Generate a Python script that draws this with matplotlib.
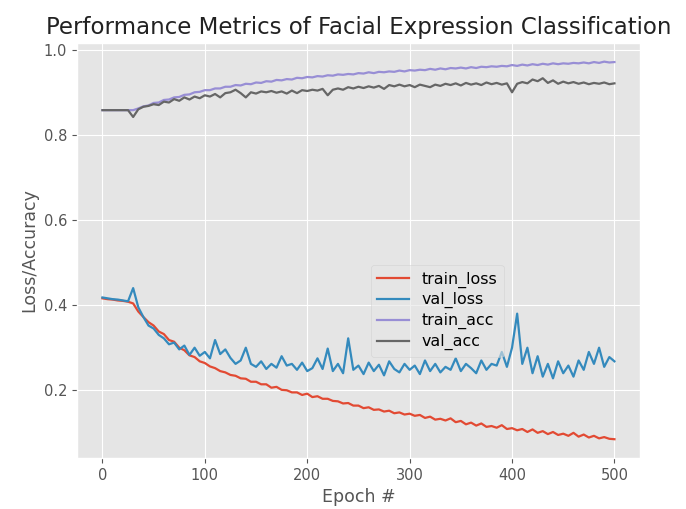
import numpy as np
import matplotlib
matplotlib.use("Agg")
import matplotlib.pyplot as plt

epochs = np.arange(0, 501, 5)

train_loss = [
    0.416, 0.414, 0.413, 0.411, 0.410, 0.408, 0.404, 0.385, 0.372, 0.360,
    0.352, 0.338, 0.332, 0.318, 0.314, 0.300, 0.294, 0.282, 0.278, 0.268,
    0.264, 0.256, 0.252, 0.245, 0.242, 0.236, 0.234, 0.228, 0.227, 0.220,
    0.220, 0.214, 0.214, 0.206, 0.208, 0.201, 0.200, 0.195, 0.195, 0.189,
    0.192, 0.184, 0.186, 0.180, 0.180, 0.175, 0.174, 0.169, 0.170, 0.164,
    0.164, 0.158, 0.160, 0.154, 0.155, 0.150, 0.152, 0.146, 0.148, 0.143,
    0.145, 0.140, 0.142, 0.135, 0.138, 0.131, 0.133, 0.129, 0.134, 0.125,
    0.128, 0.120, 0.124, 0.117, 0.122, 0.114, 0.116, 0.112, 0.118, 0.109,
    0.111, 0.106, 0.109, 0.102, 0.108, 0.100, 0.104, 0.097, 0.102, 0.095,
    0.098, 0.093, 0.100, 0.091, 0.096, 0.089, 0.093, 0.087, 0.090, 0.086,
    0.085,
]

val_loss = [
    0.418, 0.416, 0.414, 0.413, 0.411, 0.409, 0.440, 0.395, 0.372, 0.352,
    0.345, 0.330, 0.322, 0.308, 0.312, 0.296, 0.305, 0.283, 0.300, 0.281,
    0.290, 0.275, 0.318, 0.285, 0.296, 0.276, 0.262, 0.270, 0.300, 0.262,
    0.255, 0.268, 0.250, 0.262, 0.253, 0.280, 0.258, 0.262, 0.248, 0.265,
    0.245, 0.252, 0.275, 0.250, 0.298, 0.245, 0.262, 0.240, 0.322, 0.248,
    0.258, 0.238, 0.265, 0.245, 0.260, 0.235, 0.268, 0.250, 0.242, 0.262,
    0.248, 0.258, 0.238, 0.270, 0.245, 0.262, 0.242, 0.255, 0.248, 0.275,
    0.245, 0.262, 0.252, 0.240, 0.270, 0.248, 0.262, 0.258, 0.290, 0.255,
    0.300, 0.380, 0.262, 0.300, 0.240, 0.280, 0.232, 0.262, 0.228, 0.268,
    0.240, 0.258, 0.232, 0.270, 0.248, 0.290, 0.262, 0.300, 0.255, 0.278,
    0.268,
]

train_acc = [
    0.858, 0.858, 0.858, 0.858, 0.858, 0.858, 0.858, 0.862, 0.867, 0.869,
    0.875, 0.876, 0.882, 0.883, 0.888, 0.889, 0.894, 0.895, 0.900, 0.901,
    0.905, 0.905, 0.909, 0.909, 0.913, 0.913, 0.917, 0.916, 0.920, 0.919,
    0.923, 0.922, 0.926, 0.925, 0.929, 0.928, 0.931, 0.930, 0.934, 0.933,
    0.936, 0.935, 0.938, 0.937, 0.940, 0.939, 0.942, 0.941, 0.943, 0.942,
    0.945, 0.944, 0.947, 0.945, 0.948, 0.947, 0.949, 0.948, 0.951, 0.949,
    0.952, 0.951, 0.953, 0.952, 0.955, 0.953, 0.956, 0.954, 0.957, 0.956,
    0.958, 0.956, 0.959, 0.957, 0.960, 0.959, 0.961, 0.960, 0.962, 0.961,
    0.964, 0.962, 0.965, 0.963, 0.966, 0.964, 0.967, 0.965, 0.968, 0.966,
    0.968, 0.967, 0.969, 0.968, 0.970, 0.968, 0.971, 0.969, 0.972, 0.970,
    0.971,
]

val_acc = [
    0.858, 0.858, 0.858, 0.858, 0.858, 0.858, 0.842, 0.860, 0.866, 0.868,
    0.872, 0.870, 0.878, 0.876, 0.884, 0.880, 0.888, 0.883, 0.890, 0.886,
    0.893, 0.890, 0.896, 0.888, 0.898, 0.900, 0.906, 0.898, 0.888, 0.900,
    0.897, 0.902, 0.900, 0.903, 0.899, 0.902, 0.897, 0.904, 0.898, 0.905,
    0.903, 0.906, 0.904, 0.908, 0.893, 0.906, 0.909, 0.906, 0.912, 0.909,
    0.913, 0.910, 0.914, 0.911, 0.915, 0.908, 0.917, 0.914, 0.918, 0.914,
    0.917, 0.912, 0.918, 0.915, 0.912, 0.918, 0.915, 0.920, 0.917, 0.921,
    0.916, 0.922, 0.918, 0.921, 0.917, 0.923, 0.919, 0.922, 0.918, 0.921,
    0.900, 0.920, 0.924, 0.921, 0.930, 0.926, 0.933, 0.922, 0.928, 0.920,
    0.925, 0.921, 0.924, 0.920, 0.923, 0.919, 0.922, 0.920, 0.923, 0.919,
    0.921,
]

plt.style.use("ggplot")
fig = plt.figure(figsize=(6.86, 5.09), dpi=100)
ax = fig.add_subplot(111)
fig.subplots_adjust(left=0.112, right=0.933, top=0.916, bottom=0.1)

ax.plot(epochs, train_loss, label="train_loss", lw=1.6)
ax.plot(epochs, val_loss, label="val_loss", lw=1.6)
ax.plot(epochs, train_acc, label="train_acc", lw=1.6)
ax.plot(epochs, val_acc, label="val_acc", lw=1.6, color="#666666")

ax.set_title("Performance Metrics of Facial Expression Classification",
             fontsize=16.5, color="#222222")
ax.set_xlabel("Epoch #", fontsize=12.5)
ax.set_ylabel("Loss/Accuracy", fontsize=12.5)
ax.set_xticks([0, 100, 200, 300, 400, 500])
ax.set_yticks([0.2, 0.4, 0.6, 0.8, 1.0])
ax.tick_params(labelsize=10.5)

ax.legend(loc="upper left", bbox_to_anchor=(0.508, 0.484), fontsize=11.4,
          labelspacing=0.3, framealpha=0.6)

fig.savefig("out.png", dpi=100)
